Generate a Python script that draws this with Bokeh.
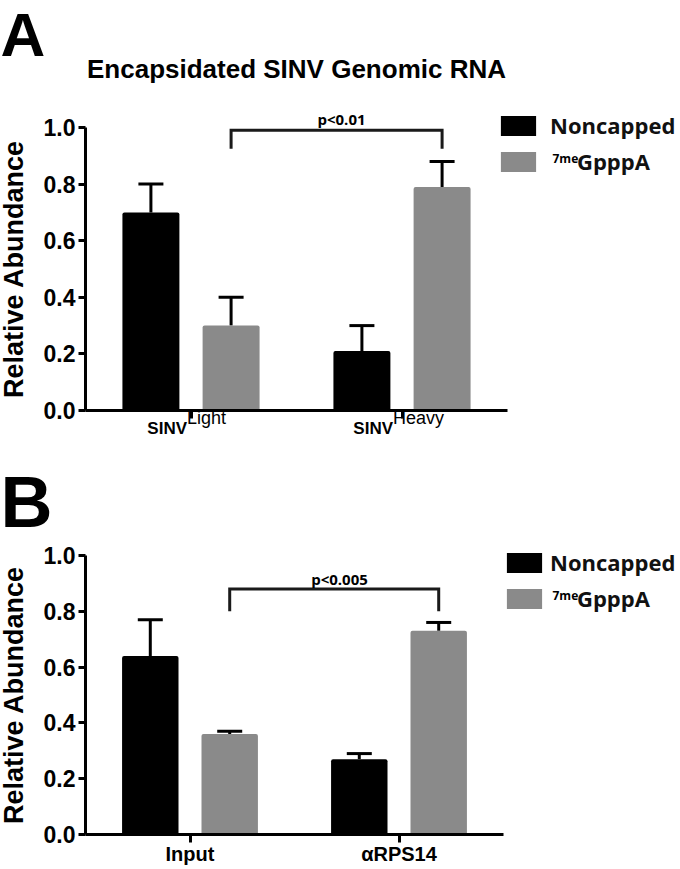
from bokeh.plotting import figure
from bokeh.models import (Range1d, FixedTicker, NumeralTickFormatter, Label, Whisker,
                          TeeHead, ColumnDataSource, Legend, LegendItem, LinearAxis)
from bokeh.layouts import column
from bokeh.embed import file_html
from bokeh.resources import INLINE

# ---------------- data ----------------
series = ["Noncapped", "GpppA"]
series_sup = ["", "7me"]
series_colors = ["#000000", "#8a8a8a"]
y_ticks = [0.0, 0.2, 0.4, 0.6, 0.8, 1.0]

a_title = "Encapsidated SINV Genomic RNA"
a_main = ["SINV", "SINV"]
a_sup = ["Light", "Heavy"]
a_noncapped = [0.70, 0.21]
a_noncapped_err = [0.10, 0.09]
a_capped = [0.30, 0.79]
a_capped_err = [0.10, 0.09]
a_pvalue = "p<0.01"
a_bracket = [0.99, 0.925]          # bracket top, bracket leg end

b_labels = ["Input", "αRPS14"]
b_noncapped = [0.64, 0.27]
b_noncapped_err = [0.13, 0.02]
b_capped = [0.36, 0.73]
b_capped_err = [0.01, 0.03]
b_pvalue = "p<0.005"
b_bracket = [0.88, 0.80]

# ---------------- layout helpers ----------------
W = 680
OFF = [-0.19, 0.19]
BAR_W = 0.27
HELV = "Liberation Sans"
OPEN = "Open Sans"


def make_panel(fig_top, height, x0, ux, y0, uy, vals, errs, tick_labels=None):
    X = lambda px: (px - x0) / ux
    Y = lambda py: (y0 - py) / uy
    p = figure(width=W, height=height, output_backend="svg", toolbar_location=None,
               x_range=Range1d(X(0), X(W)), y_range=Range1d(Y(fig_top + height), Y(fig_top)),
               x_axis_location=None, y_axis_location=None,
               min_border=0, min_border_left=0, min_border_right=0,
               min_border_top=0, min_border_bottom=0,
               outline_line_color=None, background_fill_color="white",
               border_fill_color="white")
    p.grid.visible = False

    renderers = []
    for s in range(2):
        xs = [i + 0.5 + OFF[s] for i in range(len(vals[s]))]
        src = ColumnDataSource(dict(x=xs, top=vals[s],
                                    upper=[v + e for v, e in zip(vals[s], errs[s])]))
        r = p.vbar(x="x", top="top", width=BAR_W, source=src,
                   fill_color=series_colors[s], line_color=None, border_radius=2)
        renderers.append(r)
        wh = Whisker(source=src, base="x", lower="top", upper="upper", dimension="height",
                     lower_head=None,
                     upper_head=TeeHead(size=25, line_width=3, line_color="black"),
                     line_width=3, line_color="black")
        p.add_layout(wh)

    # x axis, fixed at y = 0
    ticks_x = [i + 0.5 for i in range(len(vals[0]))]
    xa = LinearAxis(fixed_location=0, bounds=(0, 2.0), ticker=FixedTicker(ticks=ticks_x))
    xa.major_tick_out = 8
    xa.major_tick_in = 0
    xa.minor_tick_out = 0
    xa.minor_tick_in = 0
    xa.axis_line_width = 3
    xa.major_tick_line_width = 3
    if tick_labels is None:
        xa.major_label_text_color = None
    else:
        xa.major_label_overrides = {t: lab for t, lab in zip(ticks_x, tick_labels)}
        xa.major_label_text_font = HELV
        xa.major_label_text_font_style = "bold"
        xa.major_label_text_font_size = "20px"
        xa.major_label_text_color = "black"
        xa.major_label_standoff = 0
    p.add_layout(xa, "below")

    # y axis, fixed at x = 0
    ya = LinearAxis(fixed_location=0, bounds=(0, 1.0), ticker=FixedTicker(ticks=y_ticks),
                    formatter=NumeralTickFormatter(format="0.0"))
    ya.major_label_text_font = HELV
    ya.major_label_text_font_style = "bold"
    ya.major_label_text_font_size = "23px"
    ya.major_label_text_color = "black"
    ya.major_label_standoff = 3
    ya.major_tick_out = 7
    ya.major_tick_in = 0
    ya.minor_tick_out = 0
    ya.minor_tick_in = 0
    ya.axis_line_width = 3
    ya.major_tick_line_width = 3
    ya.axis_label = "Relative Abundance"
    ya.axis_label_text_font = HELV
    ya.axis_label_text_font_style = "bold"
    ya.axis_label_text_font_size = "27px"
    ya.axis_label_text_color = "black"
    ya.axis_label_standoff = 12
    p.add_layout(ya, "left")

    return p, renderers, X, Y


def text_label(x, y, text, font, size, style="bold", align="left"):
    return Label(x=x, y=y, text=text, text_align=align, text_baseline="middle",
                 text_font=font, text_font_style=style, text_font_size=size,
                 text_color="black")


def add_bracket(p, X, Y, bracket, ptext, text_px, text_mid_py):
    xl = 0.5 + OFF[1]
    xr = 1.5 + OFF[1]
    top, leg = bracket
    p.line([xl, xl, xr, xr], [leg, top, top, leg], line_color="#1a1a1a",
           line_width=3, line_join="miter")
    p.add_layout(text_label(X(text_px), Y(text_mid_py), ptext, OPEN, "15px", align="center"))


def add_legend(p, renderers, X, Y, fig_bottom, box_left, box_tops, sup_mid):
    gw, gh = 44, 25            # glyph area; the box is drawn inset by 10 %
    for s in range(2):
        x1 = box_left - gw * 0.1
        y1 = box_tops[s] - gh * 0.1
        label_x = 550 if s == 0 else 577
        lg = Legend(items=[LegendItem(label=series[s], renderers=[renderers[s]])],
                    location=(int(round(x1)), int(round(fig_bottom - (y1 + gh)))),
                    glyph_width=gw, glyph_height=gh,
                    label_standoff=int(round(label_x - (x1 + gw))),
                    label_text_font=OPEN, label_text_font_style="bold",
                    label_text_font_size="22px", label_text_color="#111111",
                    label_height=gh, padding=0, margin=0, spacing=0,
                    border_line_color=None, background_fill_alpha=0)
        p.add_layout(lg, "center")
        if series_sup[s]:
            p.add_layout(text_label(X(552), Y(sup_mid), series_sup[s], OPEN, "12px"))


# ---------------- panel A ----------------
A_TOP, A_H = 0, 460
pA, rA, XA, YA = make_panel(A_TOP, A_H, 85, 211, 410, 283,
                            [a_noncapped, a_capped], [a_noncapped_err, a_capped_err])
pA.add_layout(text_label(XA(0), YA(34), "A", HELV, "62px"))
pA.add_layout(text_label(XA(296), YA(68), a_title, HELV, "26px", align="center"))
a_dx = [-4, -9]
for i in range(len(a_main)):
    xc = i + 0.5 + a_dx[i] / 211
    pA.add_layout(text_label(xc, YA(428), a_main[i], HELV, "17px", align="right"))
    pA.add_layout(text_label(xc, YA(417), a_sup[i], HELV, "18px", style="normal"))
add_bracket(pA, XA, YA, a_bracket, a_pvalue, 341, 118)
add_legend(pA, rA, XA, YA, A_TOP + A_H, 500, [117, 154], 158)

# ---------------- panel B ----------------
B_TOP, B_H = 460, 409
pB, rB, XB, YB = make_panel(B_TOP, B_H, 85, 209, 834, 279,
                            [b_noncapped, b_capped], [b_noncapped_err, b_capped_err],
                            tick_labels=b_labels)
pB.add_layout(text_label(XB(0), YB(501), "B", HELV, "72px"))
add_bracket(pB, XB, YB, b_bracket, b_pvalue, 339, 578)
add_legend(pB, rB, XB, YB, B_TOP + B_H, 506, [554, 590], 595)

layout = column(pA, pB, spacing=0)
open("out.html", "w").write(file_html(layout, INLINE))
